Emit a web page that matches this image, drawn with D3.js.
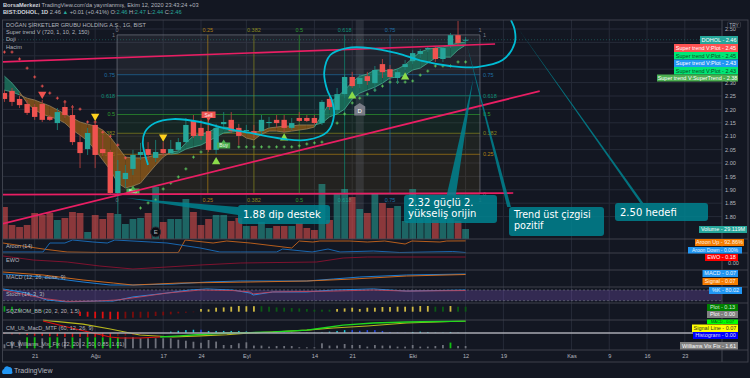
<!DOCTYPE html>
<html><head><meta charset="utf-8">
<script src="https://cdn.jsdelivr.net/npm/d3@7"></script>
<style>html,body{margin:0;padding:0;background:#131722;overflow:hidden}svg{display:block}text{font-family:"Liberation Sans",Arial,sans-serif}</style>
</head><body><svg id="c" width="750" height="378"></svg>
<script>
// ---------- DATA (bar index -1 … 60, index 60 = 12 Eki) ----------
const firstBar=-1;
const opens=[2.261,2.269,2.239,2.220,2.209,2.220,2.172,2.149,2.209,2.179,2.078,2.052,2.142,2.052,2.041,1.888,1.940,1.978,2.030,2.052,2.019,2.052,2.037,2.049,2.078,2.157,2.131,2.119,2.049,2.145,2.161,2.131,2.119,2.119,2.119,2.149,2.161,2.161,2.131,2.168,2.168,2.168,2.149,2.239,2.198,2.257,2.321,2.295,2.324,2.298,2.369,2.350,2.317,2.358,2.380,2.407,2.425,2.429,2.388,2.440,2.477,2.46];
const closes=[2.239,2.228,2.216,2.187,2.172,2.161,2.161,2.190,2.179,2.078,2.037,2.112,2.030,2.037,1.888,1.970,1.963,2.030,2.041,2.030,2.041,2.037,2.052,2.078,2.142,2.101,2.101,2.049,2.131,2.153,2.119,2.101,2.123,2.112,2.161,2.153,2.149,2.131,2.149,2.157,2.157,2.149,2.228,2.209,2.257,2.321,2.287,2.317,2.306,2.347,2.339,2.321,2.339,2.369,2.410,2.418,2.429,2.388,2.429,2.477,2.448,2.46];
const highs=[2.272,2.280,2.250,2.235,2.220,2.235,2.179,2.205,2.235,2.216,2.104,2.131,2.153,2.104,2.049,2.011,1.993,2.049,2.075,2.078,2.086,2.078,2.086,2.093,2.168,2.179,2.161,2.168,2.146,2.190,2.190,2.146,2.142,2.142,2.179,2.172,2.179,2.179,2.168,2.190,2.179,2.179,2.235,2.257,2.280,2.332,2.340,2.332,2.340,2.362,2.388,2.366,2.354,2.384,2.421,2.425,2.436,2.436,2.433,2.485,2.530,2.47];
const lows=[2.228,2.213,2.205,2.179,2.161,2.153,2.157,2.123,2.168,2.067,1.981,2.030,1.981,2.026,1.884,1.810,1.907,1.955,2.011,2.011,2.004,2.026,2.033,2.041,2.067,2.093,2.086,2.041,2.033,2.123,2.112,2.067,2.108,2.093,2.104,2.131,2.131,2.116,2.123,2.153,2.153,2.142,2.142,2.198,2.183,2.242,2.280,2.280,2.291,2.265,2.317,2.310,2.295,2.347,2.369,2.392,2.414,2.377,2.377,2.429,2.436,2.44];
const volumes=[87.5,39.8,34.5,39.8,71.6,66.3,71.6,53,58.3,74.2,71.6,21.2,66.3,55.7,71.6,68.9,42.4,55.7,58.3,71.6,140.5,47.7,55.7,55.7,108.7,74.2,39.8,55.7,66.3,66.3,50.4,58.3,37.1,37.1,47.7,31.8,37.1,37.1,37.1,45,31.8,26.5,148.4,53,121.9,135.2,114,82.2,71.6,121.9,98,84.8,90.1,50.4,135.2,58.3,71.6,53,71.6,58.3,50.4,29.119];
const stFast=[2.324,2.298,2.265,2.224,2.198,2.183,2.172,2.164,2.149,2.123,2.104,2.082,2.049,2.011,1.974,1.925,1.907,1.914,1.925,1.959,1.992,2.022,2.041,2.045,2.075,2.101,2.108,2.115,2.131,2.134,2.131,2.112,2.093,2.086,2.108,2.119,2.119,2.115,2.119,2.123,2.127,2.134,2.179,2.224,2.246,2.272,2.302,2.324,2.332,2.347,2.347,2.343,2.351,2.366,2.392,2.414,2.425,2.429,2.433,2.440,2.448,2.451];
const stSlow=[2.272,2.265,2.254,2.242,2.235,2.224,2.213,2.198,2.183,2.168,2.153,2.145,2.138,2.123,2.097,2.060,2.022,2.019,2.019,2.022,2.030,2.033,2.033,2.037,2.052,2.060,2.067,2.082,2.097,2.112,2.115,2.119,2.115,2.115,2.119,2.131,2.134,2.138,2.138,2.142,2.142,2.142,2.149,2.172,2.183,2.201,2.239,2.261,2.272,2.283,2.298,2.317,2.321,2.328,2.347,2.354,2.373,2.392,2.395,2.395,2.422,2.440];
const redStopBars=[-1,0,1,2,3,4,5,6,7,8,9,10,11,12,13,14,15];
const redStopVals=[2.414,2.414,2.388,2.354,2.321,2.287,2.261,2.242,2.228,2.209,2.201,2.153,2.153,2.115,2.100,2.067,2.019];
const greenStopBars=[17,18,19,20,21,22,23,24,25,30,31,32,33,34,35,36,37,38,39,40,41,43,44,45,46,47,48,49,50,51,52,53,54,55,56,57,58,59,60];
const greenStopVals=[1.832,1.851,1.862,1.903,1.925,1.948,1.978,2.022,2.041,2.060,2.060,2.060,2.060,2.060,2.060,2.060,2.060,2.064,2.071,2.075,2.078,2.149,2.183,2.224,2.242,2.257,2.272,2.287,2.302,2.302,2.302,2.306,2.328,2.343,2.362,2.362,2.362,2.377,2.377];
const sellTriBars=[4], sellTriVals=[2.257];
const yellowTriBars=[11,20], yellowTriVals=[2.175,2.097];
const upTriBars=[27,36,45,52], upTriVals=[2.004,2.093,2.250,2.321];
const buyBars=[16,28], buyVals=[1.899,2.071];
const sellBars=[26], sellVals=[2.179];
// fibonacci
const fibLevels=[1,0.75,0.618,0.5,0.382,0.25,0];
const fibTop=2.478, fibBottom=1.884;
const fibTimeBars=[13.9,25.9,32,38,44,50,61.9];
const fibTimeLevels=[0,0.25,0.382,0.5,0.618,0.75,1];
// drawn annotations [bar, price]
const trendUpper=[[-1.19,2.377],[63.9,2.444]];
const supportLine=[[-1.19,1.882],[66.3,1.888]];
const trendLower=[[-1.19,1.774],[69.8,2.268]];
const cyanCurve=[[18,1.993],[17.3,2.075],[17.6,2.116],[18.9,2.149],[21.3,2.164],[24.9,2.153],[27.9,2.131],[31.5,2.112],[35.8,2.090],[39,2.086],[41.7,2.116],[42.6,2.179],[42.3,2.235],[41.7,2.272],[41.3,2.339],[42.1,2.403],[44.3,2.429],[47.4,2.429],[50.9,2.410],[54.4,2.380],[57.9,2.362],[61.5,2.358],[64.9,2.384],[66.5,2.448],[66.5,2.496],[66,2.533]];
const wedge1=[[15.1,1.869],[29.9,1.836],[29.9,1.806]];
const wedge2=[[61,2.313],[57.5,1.880],[58.7,1.880]];
const wedge3=[[60.1,2.448],[65.5,1.836],[66,1.836]];
const wedge4=[[66.9,2.504],[83.1,1.851],[83.5,1.851]];
// panes
const priceTicks=[2.5,2.45,2.4,2.35,2.3,2.25,2.2,2.15,2.1,2.05,2,1.95,1.9,1.85,1.8];
const priceLabels=[2.5,2.3,2.25,2.2,2.15,2.1,2.05,2,1.95,1.9,1.85,1.8];
const xTickBars=[3,11,20,25,31,40,45,53,60,65,74,79,84,89];
const xTickLabels=["21","Ağu","17","24","Eyl","14","21","Eki","12","19","Kas","9","16","23"];
const aroonUpBars=[-1.2,4.1,7.3,11.6,22,22.9,26.6,28.4,31.5,37,38,39.8,40.7,44.7,47,49.3,52,52.9,56.6,57.5,60];
const aroonUpVals=[76,28,4,0,0,100,76,92,76,36,92,84,92,92,84,92,68,92,84,92,92.86];
const aroonDownBars=[-1.2,4.1,5,7,8,10.7,12.6,13.6,18.3,20.5,24.9,27.5,30.2,35,35.8,39.7,41.8,43.4,47.8,51.3,58.3,60];
const aroonDownVals=[4,4,76,76,100,84,76,100,84,76,36,4,4,4,28,4,28,4,12,0,8,0];
const ewoBars=[-1.2,2.8,7.3,11.6,16,20.5,24.9,30.2,40.3,43.8,47,60];
const ewoVals=[.21,.09,.03,-.09,-.18,-.12,-.06,0,.03,.15,.18,.18];
const macdBars=[-1.2,4.1,9.4,13,16,21.3,25.8,30.2,39,42.5,46,52.2,60];
const macdVals=[.07,.04,-.01,-.04,-.04,-.03,-.01,0,0,.02,.04,.06,.07];
const signalBars=[-1.2,4.1,9.4,13.4,16,22.2,31.5,39,45.1,52.2,60];
const signalVals=[.09,.06,.01,-.02,-.04,-.02,-.01,0,.02,.05,.065];
const stochKBars=[-1.2,2,4.6,7.3,11.2,13.4,16,20.5,23.5,25.8,29.2,31.5,31.9,34.5,39,42.5,47.8,52.2,60];
const stochKVals=[86,63,24,13,18,18,41,63,80,86,80,63,52,69,69,80,86,74,80];
const stochDBars=[-1.2,2,4.6,7.3,11.2,13.9,16.9,20.5,24.9,29.2,31.5,31.9,34.5,42.5,47.8,52.2,60];
const stochDVals=[80,52,30,16,18,24,41,63,80,77,69,58,69,74,80,74,77];
const sqzVals=[.143,.13,.091,.065,.052,.039,.026,.013,-.026,-.052,-.112,-.13,-.169,-.174,-.2,-.2,-.174,-.156,-.156,-.156,-.112,-.096,-.07,-.044,-.026,-.013,.07,.06,.104,.112,.13,.148,.143,.143,.143,.13,.112,.104,.096,.086,.07,.052,.052,.052,.07,.086,.104,.07,.104,.104,.122,.122,.13,.13,.13,.148,.148,.13,.13,.148,.13,.13];
const sqzStates="gggddddmmmrrrrrrmmmmmmmmmmyyyyyyyyddddddddddyyyyyyyyyyyyyddydd";
const ultSignalBars=[4.1,9.4,13,16.9,21.3,24.9,28.4,31.5,34.5,39,42.5,47,52.2,60];
const ultSignalVals=[.075,.052,.023,-.012,-.023,-.017,-.01,0,.006,.017,.029,.041,.058,.07];
const ultFallBars=[4.1,7.3,10.7,13,14.3,16.9,19.6];
const ultFallVals=[.07,.035,0,-.023,-.029,-.029,-.023];
const ultRiseBars=[19.6,22.2,24.9,28.4,31.5,34.5,39,41.1,43.8,47.8,52.2,60];
const ultRiseVals=[-.023,-.017,-.009,0,.002,.006,.017,.029,.046,.058,.064,.07];
const ultHist=[-.004,-.008,-.008,-.012,-.016,-.016,-.019,-.019,-.023,-.023,-.023,-.023,-.023,-.023,-.023,-.019,-.016,-.012,-.008,-.004,-.002,-.001,.008,.013,.017,.019,.019,.012,.012,.012,.012,.012,.009,.006,.003,.002,.002,.002,.002,.002,.002,.002,.004,.008,.012,.017,.017,.013,.017,.017,.012,.006,.003,.002,.006,.008,.006,.002,.002,.006,.002,.001];
const wvfVals=[2.8,4.9,5.6,7.7,7.7,7,7.7,7.7,7,7.7,7,7.7,7.7,7.7,7.7,7.7,7.7,7.7,7,7,7,7,7,6,5.3,4.6,3.9,5.8,4.7,2.3,2.3,3.5,4.2,1.9,1.9,1.2,1.6,1.6,1.6,.7,.7,.7,3.5,1.9,1.9,3,2.3,2.3,1.2,2.3,1.9,1.9,1.2,1.2,2.3,1.2,1.2,1.6,2.3,4,1.61,1.61];
const wvfHighBars=[2,3,5,6,8,10,11,12,13,14,58];
const paneTitles=["Aroon (14)","EWO","MACD (12, 26, close, 9)","Stoch (14, 3, 3)","SQZMOM_BB (20, 2, 20, 1.5)","CM_Ult_MacD_MTF (60, 12, 26, 9)","CM_Williams_Vix_Fix (22, 20, 2, 50, 0.85, 1.01)"];
const legendLines=["DOĞAN ŞİRKETLER GRUBU HOLDİNG A.Ş., 1G, BIST","Super trend V (720, 1, 10, 2, 150)","Doji","Hacim"];

// ---------- LAYOUT ----------
const svg=d3.select("#c");
const L=3,R=722,T=20,B=350,EDGE=748;
const seps=[239,253,270,287,303,320,333,350];
const x=d3.scaleLinear().domain([0,60]).range([12,465.6]);
const y=d3.scaleLinear().domain([1.8,2.5]).range([216.6,29]);
const bars=d3.range(opens.length).map(k=>k+firstBar);
const GREEN="#26a69a",RED="#ef5350";
const defs=svg.append("defs");
defs.append("clipPath").attr("id","plot").append("rect").attr("x",L).attr("y",T).attr("width",R-L).attr("height",239-T);
defs.append("clipPath").attr("id","all").append("rect").attr("x",L).attr("y",T).attr("width",R-L).attr("height",B-T);

svg.append("rect").attr("width",750).attr("height",378).attr("fill","#131722");
// grid
const gridC="#262b38";
const gGrid=svg.append("g");
gGrid.selectAll("line.v").data(xTickBars).join("line").attr("x1",d=>x(d)).attr("x2",d=>x(d)).attr("y1",T).attr("y2",B).attr("stroke",gridC).attr("stroke-width",1);
gGrid.selectAll("line.h").data(priceTicks).join("line").attr("x1",L).attr("x2",R).attr("y1",d=>y(d)).attr("y2",d=>y(d)).attr("stroke",gridC);

// fib retracement
const fibY=l=>y(fibBottom+(fibTop-fibBottom)*l);
const fibCols={1:"#787b86",0.75:"#1f6fa5",0.618:"#0f8f76",0.5:"#2f9e2f",0.382:"#8a8a20",0.25:"#b07f14",0:"#787b86"};
const fibX0=x(fibTimeBars[0]),fibX1=x(fibTimeBars[6]);
const gFib=svg.append("g");
d3.pairs(fibLevels).forEach(([a,b])=>{
  gFib.append("rect").attr("x",fibX0).attr("width",fibX1-fibX0).attr("y",fibY(a)).attr("height",fibY(b)-fibY(a)).attr("fill",fibCols[b===0?0.25:a]).attr("opacity",a===1?0.13:0.11);
});
fibLevels.forEach(l=>{
  gFib.append("line").attr("x1",fibX0).attr("x2",fibX1).attr("y1",fibY(l)).attr("y2",fibY(l)).attr("stroke",fibCols[l]).attr("stroke-width",.8).attr("opacity",.85);
  if(l>0){gFib.append("text").attr("x",fibX0-2).attr("y",fibY(l)+2).attr("text-anchor","end").attr("font-size",5.5).attr("fill",fibCols[l]).text(l);}
  gFib.append("text").attr("x",fibX1+3).attr("y",fibY(l)+2).attr("font-size",5.5).attr("fill",fibCols[l]).text(l);
});
fibTimeBars.forEach((b,i)=>{
  const l=fibTimeLevels[i];
  gFib.append("line").attr("x1",x(b)).attr("x2",x(b)).attr("y1",fibY(1)).attr("y2",fibY(0)).attr("stroke",fibCols[l]).attr("stroke-width",.8).attr("opacity",.85);
  [32,202].forEach(py=>gFib.append("text").attr("x",x(b)).attr("y",py).attr("text-anchor","middle").attr("font-size",5.5).attr("fill",fibCols[l]).text(l));
});
// highlighted bar
svg.append("rect").attr("x",x(46)-4).attr("width",8).attr("y",T).attr("height",239-T).attr("fill","#787b86").attr("opacity",.22);

const plot=svg.append("g").attr("clip-path","url(#plot)");
// volume
const vol=d3.scaleLinear().domain([0,150]).range([240,183.4]);
plot.append("g").selectAll("rect").data(bars).join("rect")
 .attr("x",d=>x(d)-3.4).attr("width",6.8).attr("y",d=>vol(volumes[d-firstBar])).attr("height",d=>240-vol(volumes[d-firstBar]))
 .attr("fill",d=>closes[d-firstBar]>=opens[d-firstBar]?GREEN:RED).attr("opacity",.55);

// cloud
const gCloud=plot.append("g");
d3.pairs(bars).forEach(([a,b])=>{
  const ia=a-firstBar,ib=b-firstBar;
  const up=(stFast[ia]+stFast[ib])>=(stSlow[ia]+stSlow[ib]);
  const area=d3.area().x(d=>x(d)).y0(d=>y(stFast[d-firstBar])).y1(d=>y(stSlow[d-firstBar]));
  gCloud.append("path").attr("d",area([a,b])).attr("fill",up?"#1c7a62":"#8f5a18").attr("opacity",.78);
  const ln=s=>d3.line().x(d=>x(d)).y(d=>y(s[d-firstBar]))([a,b]);
  gCloud.append("path").attr("d",ln(stFast)).attr("stroke",up?"#4fb59a":"#a08a62").attr("stroke-width",.7).attr("fill","none");
  gCloud.append("path").attr("d",ln(stSlow)).attr("stroke",up?"#4fb59a":"#a08a62").attr("stroke-width",.7).attr("fill","none");
});

// stops
const plus=(bs,vs,c)=>{const g=plot.append("g");bs.forEach((b,i)=>{
  const px=x(b),py=y(vs[i]);
  g.append("path").attr("d",`M${px-1.5},${py}H${px+1.5}M${px},${py-1.5}V${py+1.5}`).attr("stroke",c).attr("stroke-width",.9);
});};
plus(redStopBars,redStopVals,"#ef5350");
plus(greenStopBars,greenStopVals,"#5fc65f");

// candles
const gC=plot.append("g");
gC.selectAll("line").data(bars).join("line").attr("x1",d=>x(d)).attr("x2",d=>x(d))
 .attr("y1",d=>y(highs[d-firstBar])).attr("y2",d=>y(lows[d-firstBar]))
 .attr("stroke",d=>closes[d-firstBar]>=opens[d-firstBar]?"#1d7f76":"#b23f3e").attr("stroke-width",.9);
gC.selectAll("rect").data(bars).join("rect").attr("x",d=>x(d)-2.7).attr("width",5.4)
 .attr("y",d=>y(Math.max(opens[d-firstBar],closes[d-firstBar])))
 .attr("height",d=>Math.max(1,Math.abs(y(opens[d-firstBar])-y(closes[d-firstBar]))))
 .attr("fill",d=>closes[d-firstBar]>=opens[d-firstBar]?GREEN:RED);

// last price dotted
plot.append("line").attr("x1",L).attr("x2",R).attr("y1",y(closes[closes.length-1])).attr("y2",y(closes[closes.length-1])).attr("stroke",GREEN).attr("stroke-width",.6).attr("stroke-dasharray","1 2").attr("opacity",.6);

// triangles
const tri=(bs,vs,c,down)=>bs.forEach((b,i)=>plot.append("path").attr("d",d3.symbol(d3.symbolTriangle,30)())
  .attr("transform",`translate(${x(b)},${y(vs[i])})${down?" rotate(180)":""}`).attr("fill",c));
tri(sellTriBars,sellTriVals,"#ef5350",true);
tri(yellowTriBars,yellowTriVals,"#ffd21f",true);
tri(upTriBars,upTriVals,"#8bdc4a",false);
// buy/sell badges
buyBars.forEach((b,i)=>{const px=x(b),py=y(buyVals[i]);
  plot.append("path").attr("d",`M${px-6.5},${py-1.5}H${px-2}L${px},${py-4.5}L${px+2},${py-1.5}H${px+6.5}V${py+4.5}H${px-6.5}Z`).attr("fill","#4caf50");
  plot.append("text").attr("x",px).attr("y",py+3).attr("text-anchor","middle").attr("font-size",5).attr("fill","#e8f5e9").text("Buy");});
sellBars.forEach((b,i)=>{const px=x(b),py=y(sellVals[i]);
  plot.append("path").attr("d",`M${px-7},${py-3.5}H${px+7}V${py+3}H${px+2}L${px},${py+6}L${px-2},${py+3}H${px-7}Z`).attr("fill","#ef5350");
  plot.append("text").attr("x",px).attr("y",py+1.5).attr("text-anchor","middle").attr("font-size",5).attr("fill","#ffe9e9").text("Sell");});
// D marker
{const px=x(46),py=y(2.198);
 plot.append("path").attr("d",`M${px},${py-7}L${px+5.5},${py-3.5}V${py+5.5}H${px-5.5}V${py-3.5}Z`).attr("fill","#787b86");
 plot.append("text").attr("x",px).attr("y",py+3).attr("text-anchor","middle").attr("font-size",6).attr("fill","#fff").text("D");}

// drawings
const lineGen=d3.line().x(d=>x(d[0])).y(d=>y(d[1]));
[trendUpper,supportLine,trendLower].forEach(l=>plot.append("path").attr("d",lineGen(l)).attr("stroke","#e91e63").attr("stroke-width",1.7).attr("fill","none"));
plot.append("path").attr("d",d3.line().x(d=>x(d[0])).y(d=>y(d[1])).curve(d3.curveCatmullRom.alpha(.5))(cyanCurve)).attr("stroke","#00bcd4").attr("stroke-width",1.8).attr("fill","none");
[wedge1,wedge2,wedge3,wedge4].forEach(w=>plot.append("path").attr("d",lineGen(w)+"Z").attr("fill","#00838f").attr("opacity",.85));
// E marker
{const px=x(19);
 svg.append("circle").attr("cx",px).attr("cy",232).attr("r",5).attr("fill","#0b0d14").attr("stroke","#2a2e39");
 svg.append("text").attr("x",px).attr("y",234).attr("text-anchor","middle").attr("font-size",6).attr("fill","#b2b5be").text("E");}

// callouts
const callout=(cx,cy,w,h,lines,tx,fs)=>{
  svg.append("rect").attr("x",cx).attr("y",cy).attr("width",w).attr("height",h).attr("rx",3).attr("fill","#00838f").attr("opacity",.85);
  lines.forEach((t,i)=>svg.append("text").attr("x",tx).attr("y",cy+13+i*11.3-(lines.length>1?2:0)).attr("font-size",fs).attr("fill","#fff").style("font-family","'DejaVu Sans'").text(t));
};
callout(238,205,92,19,["1.88 dip destek"],243,10);
callout(404,195,93,28,["2.32 güçlü 2.","yükseliş orijin"],408,10);
callout(509,207,95,29,["Trend üst çizgisi","pozitif"],514,9.6);
callout(615,203,93,18,["2.50 hedefi"],620,10);

// pane helpers
const paneLine=(bs,vs,sc,c,w=.9)=>svg.append("path").attr("clip-path","url(#all)")
  .attr("d",d3.line().x((d,i)=>x(bs[i])).y((d,i)=>sc(vs[i]))(bs)).attr("fill","none").attr("stroke",c).attr("stroke-width",w);

// Aroon
const yAroon=d3.scaleLinear().domain([0,100]).range([252.5,240]);
paneLine(aroonUpBars,aroonUpVals,yAroon,"#c8651c");
paneLine(aroonDownBars,aroonDownVals,yAroon,"#1a6fc0");
// EWO
const yEwo=d3.scaleLinear().domain([0,.18]).range([263,257]);
paneLine(ewoBars,ewoVals,yEwo,"#8a1230");
// MACD
const yMacd=d3.scaleLinear().domain([0,.07]).range([281,274]);
paneLine(macdBars,macdVals,yMacd,"#1e88e5");
paneLine(signalBars,signalVals,yMacd,"#e0701c");
// Stoch
const yStoch=d3.scaleLinear().domain([20,80]).range([300.7,290]);
svg.append("rect").attr("x",L).attr("width",R-L).attr("y",yStoch(80)).attr("height",yStoch(20)-yStoch(80)).attr("fill","#7e57c2").attr("opacity",.3);
[80,20].forEach(v=>svg.append("line").attr("x1",L).attr("x2",R).attr("y1",yStoch(v)).attr("y2",yStoch(v)).attr("stroke","#787b86").attr("stroke-width",.6).attr("stroke-dasharray","2 2"));
paneLine(stochKBars,stochKVals,yStoch,"#2196f3");
paneLine(stochDBars,stochDVals,yStoch,"#c2455a");
// SQZ
const ySqz=d3.scaleLinear().domain([0,.13]).range([311.7,306.7]);
const sqzCol={g:"#0a9a1a",d:"#0b5a14",r:"#e01010",m:"#7a0c0c",y:"#cdb842"};
svg.append("g").selectAll("rect").data(bars).join("rect").attr("x",d=>x(d)-.9).attr("width",1.8)
 .attr("y",d=>Math.min(ySqz(0),ySqz(sqzVals[d-firstBar]))).attr("height",d=>Math.abs(ySqz(sqzVals[d-firstBar])-ySqz(0)))
 .attr("fill",d=>sqzCol[sqzStates[d-firstBar]]);
// Ult macd
const yUlt=d3.scaleLinear().domain([0,.07]).range([333,321]);
svg.append("g").selectAll("rect").data(bars).join("rect").attr("x",d=>x(d)-.75).attr("width",1.5)
 .attr("y",d=>Math.min(yUlt(0),yUlt(ultHist[d-firstBar]))).attr("height",d=>Math.abs(yUlt(ultHist[d-firstBar])-yUlt(0)))
 .attr("fill",(d,i)=>{const v=ultHist[i],p=i?ultHist[i-1]:0;return v>=0?(i>=24&&v<=p&&i<27||(i>=46&&i<=53)?"#2448e8":"#18c8d8"):(v<=p?"#e01010":"#7a0c0c");});
// Williams
const yWvf=d3.scaleLinear().domain([0,7.7]).range([348.3,337.3]);
svg.append("g").selectAll("rect").data(bars).join("rect").attr("x",d=>x(d)-.9).attr("width",1.8)
 .attr("y",d=>yWvf(wvfVals[d-firstBar])).attr("height",d=>yWvf(0)-yWvf(wvfVals[d-firstBar]))
 .attr("fill",d=>wvfHighBars.includes(d)?"#12c012":"#6f727c");
paneLine(ultSignalBars,ultSignalVals,yUlt,"#b8b81e",1.1);
paneLine(ultFallBars,ultFallVals,yUlt,"#e01010",1.1);
paneLine(ultRiseBars,ultRiseVals,yUlt,"#1ed81e",1.4);
svg.append("line").attr("x1",L).attr("x2",R).attr("y1",333).attr("y2",333).attr("stroke","#a8aab2").attr("stroke-width",1.5);

// separators & frame
seps.forEach(s=>{ if(s===333) return; svg.append("line").attr("x1",L).attr("x2",EDGE).attr("y1",s).attr("y2",s).attr("stroke","#434651").attr("stroke-width",.9);});
svg.append("line").attr("x1",R).attr("x2",R).attr("y1",T).attr("y2",362).attr("stroke","#434651");
svg.append("rect").attr("x",2.5).attr("y",T).attr("width",EDGE-2.5).attr("height",362-T).attr("fill","none").attr("stroke","#434651").attr("stroke-width",.9);

// axes
const styleAxis=g=>{g.select(".domain").remove();g.selectAll("line").remove();g.selectAll("text").attr("font-size",5.6).attr("fill","#b2b5be").attr("font-family","'Liberation Sans',Arial,sans-serif");};
svg.append("g").attr("transform",`translate(${R+3},0)`).call(d3.axisRight(y).tickValues(priceLabels).tickFormat(d3.format(".2f")).tickSize(0).tickPadding(0)).call(styleAxis);
svg.append("g").attr("transform",`translate(0,354.5)`).call(d3.axisBottom(x).tickValues(xTickBars).tickFormat((d,i)=>xTickLabels[i]).tickSize(0).tickPadding(0)).call(styleAxis);
svg.append("text").attr("x",R+6).attr("y",265).attr("font-size",5.6).attr("fill","#b2b5be").text("0.00");

// tags
const tag=(x0,x1,y0,y1,bg,fg,t,fs=5.5)=>{
  svg.append("rect").attr("x",x0).attr("y",y0).attr("width",x1-x0).attr("height",y1-y0).attr("fill",bg);
  svg.append("text").attr("x",(x0+x1)/2).attr("y",(y0+y1)/2+fs*.35).attr("text-anchor","middle").attr("font-size",fs).attr("fill",fg).text(t);
};
tag(700,738,36,44,"#26a69a","#fff","DOHOL - 2.46");
tag(674,738,44,52,"#ff5252","#fff","Super trend V:Plot - 2.45");
tag(674,738,52,59.5,"#00e676","#0a4a20","Super trend V:Plot - 2.45");
tag(674,738,59.5,67,"#2196f3","#fff","Super trend V:Plot - 2.43");
tag(674,738,67,74.5,"#00e676","#0a4a20","Super trend V:Plot - 2.43");
tag(657,738,74.5,81.5,"#4caf50","#fff","Super trend V:SuperTrend - 2.38");
tag(699,747,226,233,"#26a69a","#fff","Volume - 29.119M");
tag(688,742,247,253.5,"#2196f3","#e3f2fd","Aroon Down - 0.00%",5);
tag(695,744,239,246,"#f57c00","#fff3e0","Aroon Up - 92.86%");
tag(705,738,254,261,"#ff0000","#fff","EWO - 0.18");
tag(702.5,738,270,277,"#2196f3","#e3f2fd","MACD - 0.07");
tag(702.5,738,278,285,"#f57c00","#fff3e0","Signal - 0.07");
tag(709,742,287,294,"#2196f3","#e3f2fd","%K - 80.02");
tag(707,738,304,311,"#007f00","#d8f0d8","Plot - 0.13");
tag(707,738,311,318,"#808080","#fff","Plot - 0.00");
tag(707,738,319.5,324,"#00ff00","#0a4a20","MACD - 0.07",4);
tag(692,738,324.5,332,"#ffff00","#333","Signal Line - 0.07");
tag(693,738,332,339,"#0000ff","#dde","Histogram - 0.00");
tag(680,738,342,349.5,"#808080","#fff","Williams Vix Fix - 1.61");
svg.append("rect").attr("x",727.5).attr("y",22).attr("width",13).attr("height",5.5).attr("rx",1).attr("fill","none").attr("stroke","#434651").attr("stroke-width",.6);
svg.append("text").attr("x",734).attr("y",26.6).attr("text-anchor","middle").attr("font-size",4.8).attr("fill","#b2b5be").text("TRY");

// pane titles
const titleYs=[248,262,279,296,313,330,346];
paneTitles.forEach((t,i)=>svg.append("text").attr("x",6).attr("y",titleYs[i]).attr("font-size",5.6).attr("fill","#b2b5be").text(t));
legendLines.forEach((t,i)=>svg.append("text").attr("x",6).attr("y",26.5+i*7.4).attr("font-size",5.6).attr("fill","#b2b5be").text(t));

// header
const h1=svg.append("text").attr("x",3).attr("y",7).attr("font-size",5.7).attr("fill","#b2b5be");
h1.append("tspan").attr("font-weight","bold").attr("fill","#d1d4dc").text("BorsaMerkezi");
h1.append("tspan").text(" TradingView.com'da yayınlanmış, Ekim 12, 2020 23:43:24 +03");
const h2=svg.append("text").attr("x",3).attr("y",14.2).attr("font-size",5.7).attr("fill","#b2b5be");
h2.append("tspan").attr("font-weight","bold").attr("fill","#d1d4dc").text("BIST:DOHOL, 1D");
h2.append("tspan").text("  2.46 ");
h2.append("tspan").attr("fill",GREEN).text("▲");
h2.append("tspan").text(" +0.01 (+0.41%) O:");
h2.append("tspan").attr("fill",GREEN).text("2.46");
h2.append("tspan").text(" H:");
h2.append("tspan").attr("fill",GREEN).text("2.47");
h2.append("tspan").text(" L:");
h2.append("tspan").attr("fill",GREEN).text("2.44");
h2.append("tspan").text(" C:");
h2.append("tspan").attr("fill",GREEN).text("2.46");

// logo
svg.append("path").attr("d","M3,374 a3,3 0 0 1 1,-5 a3,3 0 0 1 5,-2 a3,3 0 0 1 3,4 a2,2 0 0 1 -1,3 Z").attr("fill","#2196f3");
svg.append("text").attr("x",14).attr("y",373).attr("font-size",7).attr("fill","#b2b5be").text("TradingView");
</script></body></html>
